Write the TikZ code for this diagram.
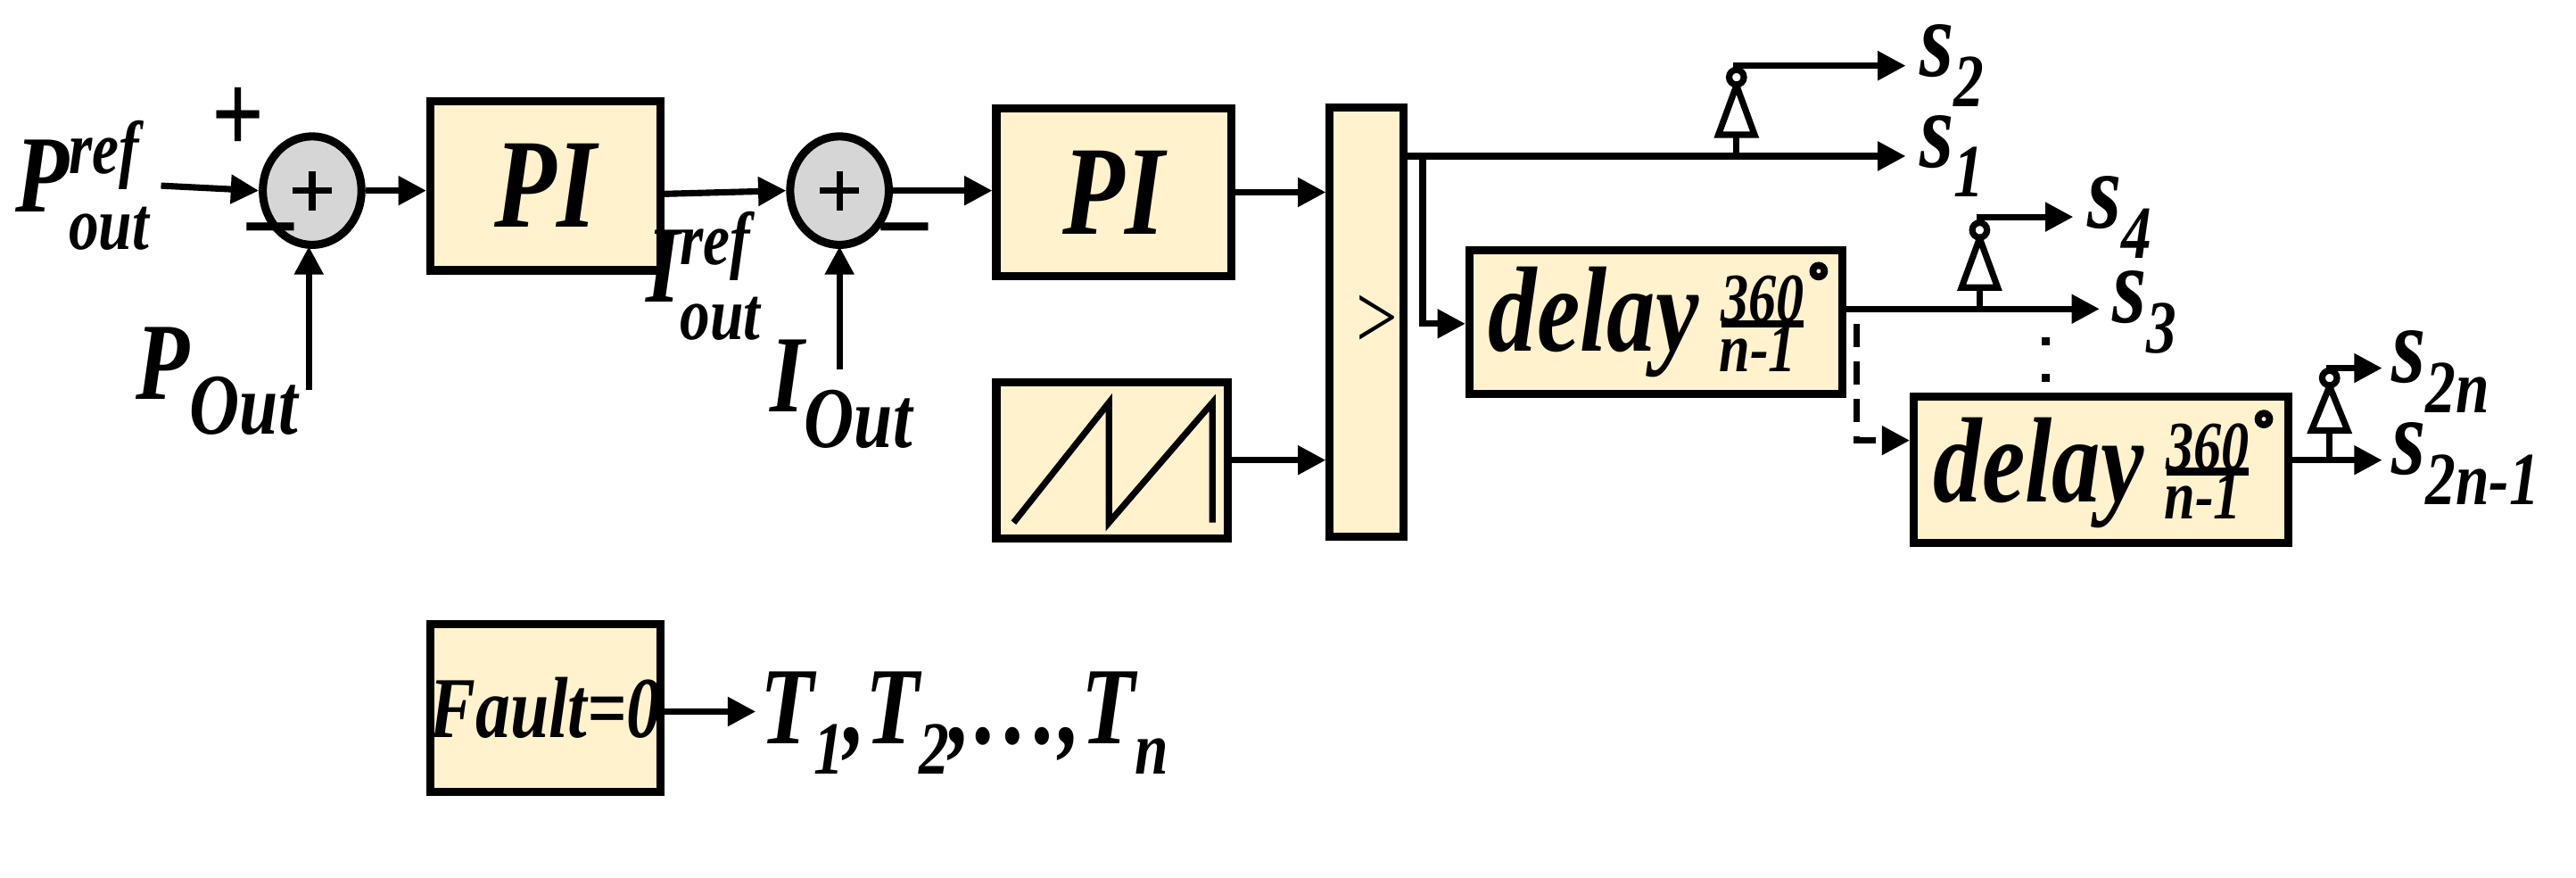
\documentclass[tikz,border=0pt]{standalone}
\usepackage{fontspec}
\setmainfont{Liberation Serif}[FakeStretch=0.8]
\usetikzlibrary{arrows.meta,shapes.geometric}
\newcommand{\ssx}[2]{\makebox[0pt][l]{\raisebox{0.75ex}{\fontsize{13}{13}\selectfont #1}}\raisebox{-0.75ex}{\fontsize{13}{13}\selectfont #2}}
\newcommand{\sbx}[1]{\raisebox{-0.6ex}{\fontsize{13}{13}\selectfont #1}}
\begin{document}
\begin{tikzpicture}[x=0.01cm,y=-0.01cm,
  lw/.style={line width=1.1pt},
  blk/.style={draw,line width=1.4pt,fill=blkfill},
  sum/.style={draw,line width=1.4pt,fill=black!16,ellipse,minimum width=0.6cm,minimum height=0.66cm,inner sep=0pt},
  arr/.style={lw,-{Triangle[length=0.17cm,width=0.17cm]}},
  lab/.style={font=\fontsize{19}{22}\selectfont\bfseries\itshape,inner sep=0pt},
  frc/.style={font=\fontsize{12}{12}\selectfont\bfseries\itshape,inner sep=0pt},
  inv/.style={draw,line width=1.1pt,fill=white}]
\definecolor{blkfill}{HTML}{FFF2CC}
\useasboundingbox (0,0) rectangle (1568,534);
% sums
\node[sum] (s1) at (190,116) {};
\node[sum] (s2) at (511,116) {};
\draw[lw] (178,116)--(202,116) (190,104)--(190,128);
\draw[lw] (499,116)--(523,116) (511,104)--(511,128);
\node[font=\fontsize{20}{20}\selectfont\bfseries] (pl) at (145,73) {+};
\node[font=\fontsize{20}{20}\selectfont\bfseries] (mi1) at (165,145) {\textendash};
\node[font=\fontsize{20}{20}\selectfont\bfseries] (mi2) at (551,145) {\textendash};
% blocks
\node[blk,minimum width=1.40cm,minimum height=1.03cm] (pi1) at (332,113) {};
\node[lab,font=\fontsize{22}{22}\selectfont\bfseries\itshape] at (pi1) {PI};
\node[blk,minimum width=1.43cm,minimum height=1.02cm] (pi2) at (678,117) {};
\node[lab,font=\fontsize{22}{22}\selectfont\bfseries\itshape] at (pi2) {PI};
\node[blk,minimum width=1.41cm,minimum height=0.95cm] (saw) at (677,280) {};
\draw[lw] (617,318)--(675,245)--(675,318)--(738,245)--(738,318);
\node[blk,minimum width=0.45cm,minimum height=2.61cm] (cmp) at (832,196) {};
\node[font=\fontsize{16}{16}\selectfont] at (838,196) {>};
\node[blk,minimum width=2.27cm,minimum height=0.87cm] (d1) at (1008,196) {};
\node[lab,font=\fontsize{21}{22}\selectfont\bfseries\itshape] at (970,196) {delay};
\node[frc] at (1073,182) {360};
\draw[line width=1.3pt] (1048,197)--(1098,197);
\node[frc] at (1070,212) {n-1};
\draw[line width=1.2pt] (1107,165) circle (3.5);
\node[blk,minimum width=2.28cm,minimum height=0.89cm] (d2) at (1279,286) {};
\node[lab,font=\fontsize{21}{22}\selectfont\bfseries\itshape] at (1241,288) {delay};
\node[frc] at (1344,272) {360};
\draw[line width=1.3pt] (1319,287)--(1369,287);
\node[frc] at (1341,302) {n-1};
\draw[line width=1.2pt] (1378,255) circle (3.5);
\node[blk,minimum width=1.40cm,minimum height=1.02cm] (flt) at (332,431) {};
\node[lab,font=\fontsize{15}{16}\selectfont\bfseries\itshape] at (flt) {Fault=0};
% labels
\node[lab] (pref) at (50,113) {P\ssx{ref}{out}};
\node[lab] (pout) at (132,232) {P\raisebox{-0.7ex}{\fontsize{15}{15}\selectfont Out}};
\node[lab] (iref) at (428,168) {I\ssx{ref}{out}};
\node[lab] (iout) at (512,240) {I\raisebox{-0.7ex}{\fontsize{15}{15}\selectfont Out}};
% connections
\coordinate (a0) at (98,113);
\draw[arr] (a0) -- (s1.west);
\draw[arr] (s1.east) -- (pi1.west|-s1.east);
\coordinate (b0) at (188,237);
\draw[arr] (b0) -- (188,150);
\draw[arr] (pi1.east|-0,118) -- (s2.west);
\coordinate (c0) at (511,225);
\draw[arr] (c0) -- (511,150);
\draw[arr] (s2.east) -- (pi2.west|-s2.east);
\draw[arr] (pi2.east) -- (cmp.west|-pi2.east);
\draw[arr] (saw.east) -- (cmp.west|-saw.east);
% outputs of comparator
\coordinate (o1) at (1160,95);
\draw[arr] (cmp.east|-o1) -- (o1);
\node[lab,anchor=west] (s1l) at (1168,95) {s\sbx{1}};
\coordinate (o2) at (1160,40);
\draw[lw] (1057,95)--(1057,82);
\draw[inv] (1046,82)--(1068,82)--(1057,52)--cycle;
\draw[inv] (1057,47) circle (4.5);
\draw[arr] (1057,42.5)--(1057,40)--(o2);
\node[lab,anchor=west] (s2l) at (1168,40) {s\sbx{2}};
\draw[arr] (866,95)--(866,197)--(d1.west|-0,197);
% delay1 outputs
\coordinate (o3) at (1278,188);
\draw[arr] (d1.east|-o3) -- (o3);
\node[lab,anchor=west] (s3l) at (1285,190) {s\sbx{3}};
\draw[lw] (1205,188)--(1205,175);
\draw[inv] (1194,175)--(1216,175)--(1205,145)--cycle;
\draw[inv] (1205,140) circle (4.5);
\coordinate (o4) at (1262,132);
\draw[arr] (1205,135.5)--(1205,132)--(o4);
\node[lab,anchor=west] (s4l) at (1270,132) {s\sbx{4}};
\draw[line width=1.4pt,dash pattern=on 1.4pt off 5pt] (1245,205)--(1245,234);
\draw[lw,dash pattern=on 4pt off 2.5pt] (1130,197)--(1130,268)--(1150,268);
\draw[arr] (1150,268)--(d2.west|-0,268);
% delay2 outputs
\coordinate (o5) at (1450,280);
\draw[arr] (d2.east|-o5) -- (o5);
\node[lab,anchor=west] (s5l) at (1455,282) {s\sbx{2n-1}};
\draw[lw] (1418,280)--(1418,262);
\draw[inv] (1407,262)--(1429,262)--(1418,235)--cycle;
\draw[inv] (1418,230) circle (4.5);
\coordinate (o6) at (1450,224);
\draw[arr] (1418,225.5)--(1418,224)--(o6);
\node[lab,anchor=west] (s6l) at (1455,226) {s\sbx{2n}};
% fault
\coordinate (o7) at (460,433);
\draw[arr] (flt.east|-o7) -- (o7);
\node[lab,anchor=west] (tl) at (462,440) {T\sbx{1},T\sbx{2},\dots,T\sbx{n}};
\end{tikzpicture}
\end{document}
